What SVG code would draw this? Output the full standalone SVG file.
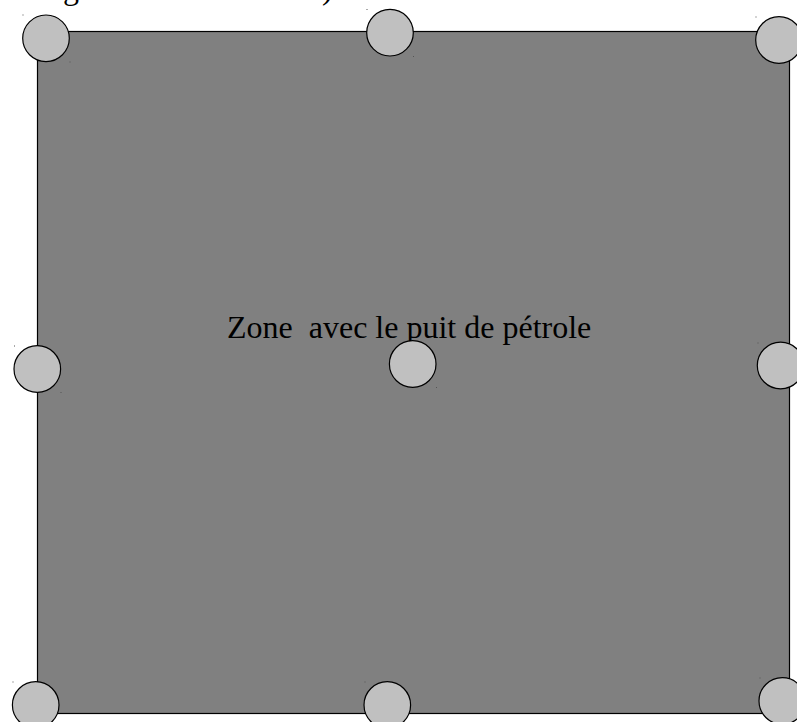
<svg xmlns="http://www.w3.org/2000/svg" width="797" height="722" viewBox="0 0 797 722">
<style>
.zone{fill:#808080;stroke:#000;stroke-width:1.2}
.well{fill:#c0c0c0;stroke:#000;stroke-width:1.2}
.dot{fill:#555}
.lbl{font-family:"Liberation Serif","Times New Roman",serif;font-size:32px;fill:#000;white-space:pre}
</style>
<rect width="797" height="722" fill="#fff"/>
<text class="lbl" y="-1.5"><tspan x="63">g</tspan><tspan x="322">)</tspan></text>
<g id="zone">
<rect class="zone" x="37.5" y="31.5" width="752" height="682"/>
<text class="lbl" x="227" y="338" xml:space="preserve">Zone  avec le puit de pétrole</text>
</g>
<g id="connectors"></g>
<g id="well-tl"><circle class="well" cx="46" cy="38.3" r="23.3"/><rect class="dot" x="22.5" y="14.5" width="1" height="1"/><rect class="dot" x="69.5" y="61.5" width="1" height="1"/></g>
<g id="well-tm"><circle class="well" cx="390" cy="32.7" r="23.3"/><rect class="dot" x="366.5" y="9" width="1" height="1"/><rect class="dot" x="413" y="56" width="1" height="1"/></g>
<g id="well-tr"><circle class="well" cx="779" cy="40" r="23.3"/><rect class="dot" x="755.5" y="16.5" width="1" height="1"/></g>
<g id="well-ml"><circle class="well" cx="37.3" cy="369" r="23.3"/><rect class="dot" x="14" y="345.5" width="1" height="1"/><rect class="dot" x="60.5" y="392" width="1" height="1"/></g>
<g id="well-c"><circle class="well" cx="412.7" cy="364" r="23.3"/><rect class="dot" x="436" y="387" width="1" height="1"/></g>
<g id="well-mr"><circle class="well" cx="780.6" cy="365.5" r="23.3"/><rect class="dot" x="757.5" y="342.5" width="1" height="1"/></g>
<g id="well-bl"><circle class="well" cx="35.7" cy="705" r="23.3"/><rect class="dot" x="12.5" y="681.5" width="1" height="1"/></g>
<g id="well-bm"><circle class="well" cx="387.3" cy="705" r="23.3"/><rect class="dot" x="364.5" y="681.5" width="1" height="1"/></g>
<g id="well-br"><circle class="well" cx="782.3" cy="701" r="23.3"/><rect class="dot" x="759.5" y="677.5" width="1" height="1"/></g>
</svg>
